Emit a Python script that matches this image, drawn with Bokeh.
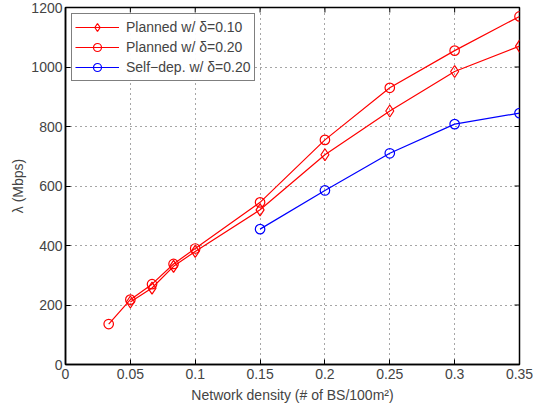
import math
from bokeh.plotting import figure
from bokeh.models import Range1d, FixedTicker, Legend, LegendItem
from bokeh.embed import file_html
from bokeh.resources import INLINE

x_p10 = [0.05, 0.0667, 0.0833, 0.1, 0.15, 0.2, 0.25, 0.3, 0.35]
y_p10 = [210, 257, 330, 380, 520, 705, 852, 985, 1070]
x_p20 = [0.0333, 0.05, 0.0667, 0.0833, 0.1, 0.15, 0.2, 0.25, 0.3, 0.35]
y_p20 = [136, 218, 270, 338, 390, 545, 755, 930, 1055, 1170]
x_sd = [0.15, 0.2, 0.25, 0.3, 0.35]
y_sd = [455, 585, 710, 808, 845]
x_ticks = [0, 0.05, 0.1, 0.15, 0.2, 0.25, 0.3, 0.35]
x_tick_labels = ["0", "0.05", "0.1", "0.15", "0.2", "0.25", "0.3", "0.35"]
y_ticks = [0, 200, 400, 600, 800, 1000, 1200]
labels = ["Planned w/ δ=0.10", "Planned w/ δ=0.20", "Self\u2212dep. w/ δ=0.20"]

FONT = "Liberation Sans"
X_MAX = 0.35
Y_MAX = 1200

p = figure(width=533, height=413, output_backend="svg", toolbar_location=None,
           x_range=Range1d(0, X_MAX), y_range=Range1d(0, Y_MAX),
           min_border_left=65, min_border_right=14, min_border_top=7, min_border_bottom=49)
p.outline_line_color = "black"
p.outline_line_width = 1.5
p.background_fill_color = "white"
p.border_fill_color = "white"

for ax in [p.xaxis[0], p.yaxis[0]]:
    ax.major_tick_in = 5
    ax.major_tick_out = 0
    ax.minor_tick_line_color = None
    ax.axis_line_width = 1.5
    ax.major_tick_line_width = 1
    ax.major_label_text_font = FONT
    ax.major_label_text_font_size = "14px"
    ax.axis_label_text_font = FONT
    ax.axis_label_text_font_size = "14px"
    ax.axis_label_text_font_style = "normal"

p.xaxis.ticker = FixedTicker(ticks=x_ticks)
p.xaxis.major_label_overrides = {t: l for t, l in zip(x_ticks, x_tick_labels)}
p.yaxis.ticker = FixedTicker(ticks=y_ticks)
p.xaxis.axis_label = "Network density (# of BS/100m²)"
p.yaxis.axis_label = "λ (Mbps)"
p.xaxis.axis_label_standoff = 5
p.yaxis.axis_label_standoff = 2
p.xaxis.major_label_standoff = 4
p.yaxis.major_label_standoff = 3

for g in [p.xgrid[0], p.ygrid[0]]:
    g.grid_line_color = "black"
    g.grid_line_dash = "1 4"
    g.grid_line_width = 1
    g.grid_line_alpha = 0.7
p.xgrid.ticker = FixedTicker(ticks=x_ticks)
p.ygrid.ticker = FixedTicker(ticks=y_ticks)

# mirrored inward ticks on the right and top edges
p.ray(x=[X_MAX] * len(y_ticks), y=y_ticks, length=5, length_units="screen",
      angle=math.pi, line_color="black", line_width=1)
p.ray(x=x_ticks, y=[Y_MAX] * len(x_ticks), length=5, length_units="screen",
      angle=-math.pi / 2, line_color="black", line_width=1)

r1l = p.line(x_p10, y_p10, line_color="red", line_width=1.2)
r1m = p.scatter(x_p10, y_p10, marker="diamond", size=12, fill_color=None, line_color="red", line_width=1.2)
r2l = p.line(x_p20, y_p20, line_color="red", line_width=1.2)
r2m = p.scatter(x_p20, y_p20, marker="circle", size=9.5, fill_color=None, line_color="red", line_width=1.2)
r3l = p.line(x_sd, y_sd, line_color="blue", line_width=1.2)
r3m = p.scatter(x_sd, y_sd, marker="circle", size=9.5, fill_color=None, line_color="blue", line_width=1.2)

legend = Legend(items=[LegendItem(label=labels[0], renderers=[r1l, r1m]),
                       LegendItem(label=labels[1], renderers=[r2l, r2m]),
                       LegendItem(label=labels[2], renderers=[r3l, r3m])],
                location="top_left")
legend.label_text_font = FONT
legend.label_text_font_size = "14px"
legend.border_line_color = "black"
legend.border_line_width = 1.2
legend.margin = 6
legend.padding = 3
legend.spacing = 0
legend.label_height = 20
legend.glyph_height = 20
legend.glyph_width = 44
legend.label_standoff = 7
p.add_layout(legend, "center")

open("out.html", "w").write(file_html(p, INLINE))
